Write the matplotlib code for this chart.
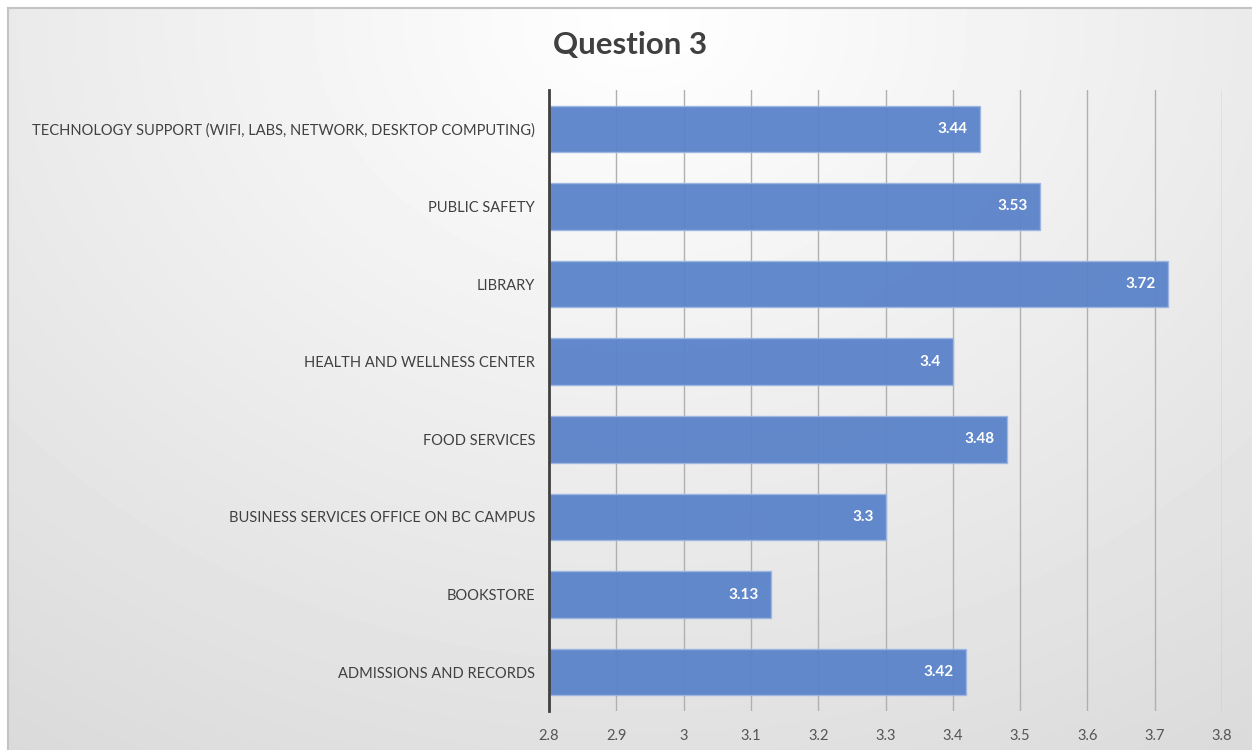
import numpy as np
import matplotlib.pyplot as plt

categories = [
    "ADMISSIONS AND RECORDS",
    "BOOKSTORE",
    "BUSINESS SERVICES OFFICE ON BC CAMPUS",
    "FOOD SERVICES",
    "HEALTH AND WELLNESS CENTER",
    "LIBRARY",
    "PUBLIC SAFETY",
    "TECHNOLOGY SUPPORT (WIFI, LABS, NETWORK, DESKTOP COMPUTING)",
]
values = [3.42, 3.13, 3.3, 3.48, 3.4, 3.72, 3.53, 3.44]
value_labels = ["3.42", "3.13", "3.3", "3.48", "3.4", "3.72", "3.53", "3.44"]
xticks = [2.8, 2.9, 3.0, 3.1, 3.2, 3.3, 3.4, 3.5, 3.6, 3.7, 3.8]
xtick_labels = ["2.8", "2.9", "3", "3.1", "3.2", "3.3", "3.4", "3.5", "3.6", "3.7", "3.8"]

plt.rcParams["font.family"] = ["Lato", "DejaVu Sans"]

W, H = 1252, 750
fig = plt.figure(figsize=(W / 100, H / 100), dpi=100)

# background gradient (light in the top middle, grey toward bottom/edges)
bg = fig.add_axes([0, 0, 1, 1], zorder=0)
yy, xx = np.mgrid[0:H, 0:W]
d = np.sqrt(((xx - 640) / 950.0) ** 2 + ((yy - 20) / 760.0) ** 2)
shade = 1.0 - 0.15 * np.clip(d, 0, 1.2) / 1.2
shade[:8, :] = 1.0
shade[:, :8] = 1.0
bg.imshow(shade, cmap="gray", vmin=0, vmax=1, extent=[0, W, H, 0], aspect="auto")
bg.plot([8, W], [8, 8], color="#c4c4c4", lw=1.5)
bg.plot([8, 8], [8, H], color="#c4c4c4", lw=1.5)
bg.set_xlim(0, W)
bg.set_ylim(H, 0)
bg.axis("off")

ax = fig.add_axes([549 / W, 1 - 711 / H, (1222 - 549) / W, (711 - 90) / H], zorder=1)
ax.patch.set_alpha(0)

y = np.arange(len(categories))
ax.barh(y, [v - 2.8 for v in values], left=2.8, height=0.6, color="#5a83c9",
        edgecolor="#9db6e2", linewidth=1.0, alpha=0.95, zorder=2)

for yi, v, lab in zip(y, values, value_labels):
    ax.text(v - 0.018, yi, lab, ha="right", va="center", color="white",
            fontsize=11, fontweight="bold", zorder=3)

ax.set_xlim(2.8, 3.8)
ax.set_ylim(-0.5, len(categories) - 0.5)
ax.set_xticks(xticks)
ax.set_xticklabels(xtick_labels, fontsize=10.5, color="#555555")
ax.set_yticks(y)
ax.set_yticklabels(categories, fontsize=10.5, color="#404040")
ax.tick_params(axis="x", length=0, pad=13)
ax.tick_params(axis="y", length=0, pad=10)
for xv in xticks[1:]:
    ax.axvline(xv, color="#b0b0b0", lw=1.0, zorder=1)

for s in ["top", "right", "bottom"]:
    ax.spines[s].set_visible(False)
ax.spines["left"].set_color("#404040")
ax.spines["left"].set_linewidth(2)

fig.text(630 / W, 1 - 45 / H, "Question 3", ha="center", va="center",
         fontsize=22.5, fontweight="bold", color="#404040")

fig.savefig("out.png", dpi=100)
